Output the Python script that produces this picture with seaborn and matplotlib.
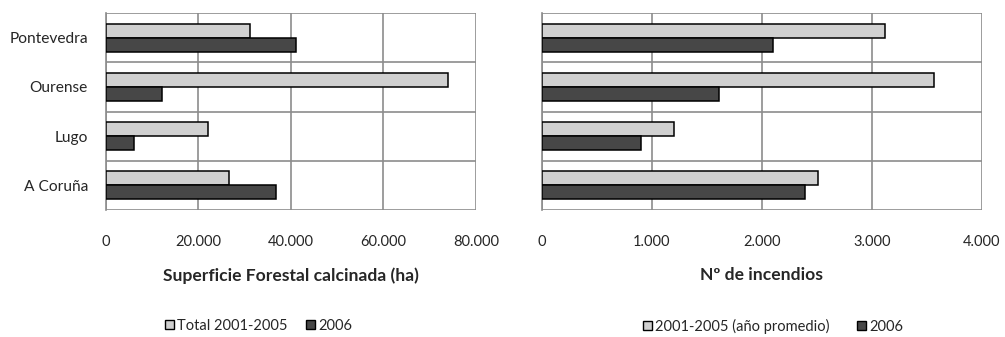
import matplotlib
matplotlib.use("Agg")
import matplotlib.pyplot as plt
import seaborn as sns
import pandas as pd
from matplotlib.patches import Patch
from matplotlib.ticker import FuncFormatter, FixedLocator

provincias = ["Pontevedra", "Ourense", "Lugo", "A Coruña"]

# Superficie forestal calcinada (ha)
sup_2001_2005 = [31100, 74000, 22000, 26700]
sup_2006 = [41000, 12100, 6100, 36800]

# Número de incendios
inc_2001_2005 = [3120, 3560, 1200, 2510]
inc_2006 = [2100, 1610, 900, 2390]

sup_ticks = [0, 20000, 40000, 60000, 80000]
inc_ticks = [0, 1000, 2000, 3000, 4000]

light = "#d0d0d0"
dark = "#474747"
grid_col = "#8c8c8c"

sns.set_style("white")
plt.rcParams["font.family"] = ["Lato", "DejaVu Sans"]


def miles(v, _pos):
    return f"{int(v):,}".replace(",", ".")


def panel(ax, a, b, lab_a, lab_b, ticks, xlabel, show_names):
    df = pd.DataFrame({
        "provincia": provincias * 2,
        "valor": list(a) + list(b),
        "serie": [lab_a] * len(a) + [lab_b] * len(b),
    })
    sns.barplot(data=df, y="provincia", x="valor", hue="serie",
                order=provincias, hue_order=[lab_a, lab_b],
                palette=[light, dark], orient="h", width=0.57,
                edgecolor="black", linewidth=1.1, ax=ax, legend=False,
                zorder=3)
    ax.set_xlim(ticks[0], ticks[-1])
    ax.set_ylim(len(provincias) - 0.5, -0.5)
    ax.set_xticks(ticks)
    ax.xaxis.set_major_formatter(FuncFormatter(miles))
    ax.yaxis.set_minor_locator(FixedLocator([i - 0.5 for i in range(len(provincias) + 1)]))
    ax.grid(True, which="major", axis="x", color=grid_col, linewidth=1.2, zorder=0)
    ax.grid(True, which="minor", axis="y", color=grid_col, linewidth=1.2, zorder=0)
    ax.grid(False, which="major", axis="y")
    for s in ["top", "right", "bottom"]:
        ax.spines[s].set_visible(False)
    ax.spines["left"].set_color(grid_col)
    ax.spines["left"].set_linewidth(1.2)
    ax.tick_params(axis="y", which="major", length=0, pad=13, labelsize=11.2)
    ax.tick_params(axis="y", which="minor", length=4, width=1.2, color=grid_col)
    ax.tick_params(axis="x", which="major", length=3, width=1.2, color=grid_col,
                   pad=15, labelsize=10.5)
    if not show_names:
        ax.set_yticklabels([])
    ax.set_ylabel("")
    ax.set_xlabel(xlabel, fontsize=12.6, fontweight="bold", labelpad=13)


fig = plt.figure(figsize=(10.05, 3.37), dpi=100)
ax1 = fig.add_axes([0.1055, 0.377, 0.368, 0.584])
ax2 = fig.add_axes([0.5393, 0.377, 0.4378, 0.584])

panel(ax1, sup_2001_2005, sup_2006, "Total 2001-2005", "2006", sup_ticks,
      "Superficie Forestal calcinada (ha)", True)
panel(ax2, inc_2001_2005, inc_2006, "2001-2005 (año promedio)", "2006", inc_ticks,
      "Nº de incendios", False)

for labels, x, gap in [(["Total 2001-2005", "2006"], 165 / 1005, 1.25),
                       (["2001-2005 (año promedio)", "2006"], 643 / 1005, 1.85)]:
    handles = [Patch(facecolor=c, edgecolor="black", linewidth=1.0) for c in (light, dark)]
    fig.legend(handles, labels, loc="center left", bbox_to_anchor=(x, 1 - 326 / 337),
               ncol=2, frameon=False, fontsize=10.5, handlelength=0.6, handleheight=0.6,
               handletextpad=0.25, columnspacing=gap, borderpad=0, borderaxespad=0)

fig.savefig("out.png", dpi=100)
